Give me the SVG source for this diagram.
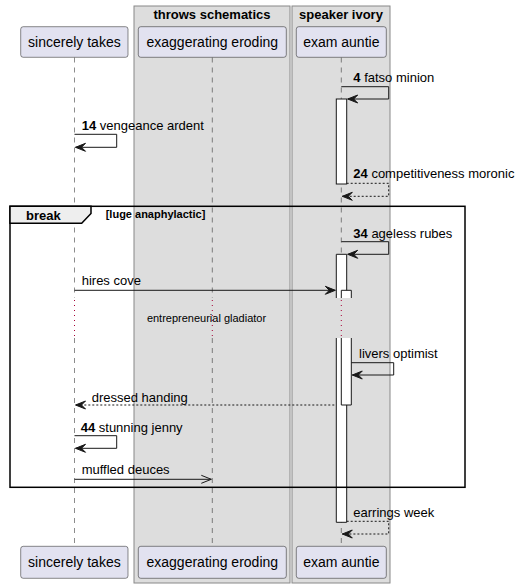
<svg xmlns="http://www.w3.org/2000/svg" width="520" height="588" viewBox="0 0 520 588">
<defs>
<style>
text{font-family:"Liberation Sans",Arial,sans-serif;fill:#000}
.pt{font-size:14px;text-anchor:middle}
.bt{font-size:13px;font-weight:bold;text-anchor:middle}
.m{font-size:13px}
.n{font-weight:bold}
.part{fill:#E2E2F0;stroke:#181818;stroke-width:0.5}
.box{fill:#DDDDDD;stroke:#888888;stroke-width:1}
.life{stroke:#181818;stroke-width:0.5;stroke-dasharray:5,5;fill:none}
.delay{stroke:#A80036;stroke-width:1;stroke-dasharray:1,4;fill:none}
.msg{stroke:#181818;stroke-width:1;fill:none}
.ret{stroke:#181818;stroke-width:1;fill:none;stroke-dasharray:2,2}
.ah{fill:#181818;stroke:#181818;stroke-width:1}
.act{fill:#FFFFFF;stroke:#181818;stroke-width:1}
.actf{fill:#FFFFFF;stroke:none}
</style>
</defs>
<g id="box-throws-schematics">
<rect class="box" x="134" y="6" width="156" height="577"/>
<text class="bt" x="212" y="18.5">throws schematics</text>
</g>
<g id="box-speaker-ivory">
<rect class="box" x="292" y="6" width="98" height="577"/>
<text class="bt" x="341" y="18.5">speaker ivory</text>
</g>
<g id="lifelines">
<path class="life" d="M74.5,57.5V298M74.5,338V546"/>
<path class="life" d="M212.3,57.5V298M212.3,338V546"/>
<path class="life" d="M341.3,57.5V298M341.3,338V546"/>
<path class="delay" d="M74.5,300V338M212.3,300V338M341.3,300V338"/>
</g>
<g id="activations">
<rect class="act" x="336.3" y="99" width="10.4" height="85"/>
<rect class="actf" x="336.3" y="254.3" width="10.4" height="43.7"/>
<path class="msg" d="M336.3,298V254.3H346.7V298"/>
<rect class="actf" x="336.3" y="338" width="10.4" height="184.3"/>
<path class="msg" d="M336.3,338V522.3H346.7V338"/>
<rect class="actf" x="341.3" y="290.3" width="10" height="7.7"/>
<path class="msg" d="M341.3,298V290.3H351.3V298"/>
<rect class="actf" x="341.3" y="338" width="10" height="67"/>
<path class="msg" d="M341.3,338V405H351.3V338"/>
</g>
<g id="frame-break">
<rect x="10" y="206.3" width="455" height="281" fill="none" stroke="#000" stroke-width="1.5"/>
<polygon points="10,206.3 91,206.3 91,213.5 81.7,223.3 10,223.3" fill="#EEEEEE" stroke="#000" stroke-width="1.5"/>
<text x="26" y="219.5" style="font-size:13px;font-weight:bold">break</text>
<text x="105.7" y="217.5" style="font-size:11px;font-weight:bold">[luge anaphylactic]</text>
</g>
<g id="participant-sincerely-takes">
<rect class="part" x="20.7" y="26.7" width="107.3" height="30.6" rx="2.5"/>
<text class="pt" x="74.4" y="46.5">sincerely takes</text>
<rect class="part" x="20.7" y="546.3" width="107.3" height="32" rx="2.5"/>
<text class="pt" x="74.4" y="566.5">sincerely takes</text>
</g>
<g id="participant-exaggerating-eroding">
<rect class="part" x="138.3" y="26.7" width="148" height="30.6" rx="2.5"/>
<text class="pt" x="212.3" y="46.5">exaggerating eroding</text>
<rect class="part" x="138.3" y="546.3" width="148" height="32" rx="2.5"/>
<text class="pt" x="212.3" y="566.5">exaggerating eroding</text>
</g>
<g id="participant-exam-auntie">
<rect class="part" x="296.3" y="26.7" width="90" height="30.6" rx="2.5"/>
<text class="pt" x="341.3" y="46.5">exam auntie</text>
<rect class="part" x="296.3" y="546.3" width="90" height="32" rx="2.5"/>
<text class="pt" x="341.3" y="566.5">exam auntie</text>
</g>
<g id="connectors">
<path class="msg" d="M341.3,86.7H388.7V99H347.7"/>
<polygon class="ah" points="347.7,99 357.7,95 353.7,99 357.7,103"/>
<text class="m" x="353.3" y="81.5"><tspan class="n">4</tspan> fatso minion</text>

<path class="msg" d="M74.5,134.3H116.7V147.3H75.5"/>
<polygon class="ah" points="75.5,147.3 85.5,143.3 81.5,147.3 85.5,151.3"/>
<text class="m" x="81.7" y="130"><tspan class="n">14</tspan> vengeance ardent</text>

<path class="ret" d="M346.7,183.3H388.7V196.3H342.3"/>
<polygon class="ah" points="342.3,196.3 352.3,192.3 348.3,196.3 352.3,200.3"/>
<text class="m" x="353.3" y="177.5"><tspan class="n">24</tspan> competitiveness moronic</text>

<path class="msg" d="M341.3,241.7H388.7V254.3H347.7"/>
<polygon class="ah" points="347.7,254.3 357.7,250.3 353.7,254.3 357.7,258.3"/>
<text class="m" x="353.3" y="238"><tspan class="n">34</tspan> ageless rubes</text>

<path class="msg" d="M74.5,290.3H335.3"/>
<polygon class="ah" points="335.3,290.3 325.3,286.3 329.3,290.3 325.3,294.3"/>
<text class="m" x="81.7" y="285">hires cove</text>

<text x="206.5" y="322" style="font-size:11px;text-anchor:middle">entrepreneurial gladiator</text>

<path class="msg" d="M351.3,362.7H393.7V375H352.3"/>
<polygon class="ah" points="352.3,375 362.3,371 358.3,375 362.3,379"/>
<text class="m" x="359" y="358">livers optimist</text>

<path class="ret" d="M334.3,405H75.5"/>
<polygon class="ah" points="75.5,405 85.5,401 81.5,405 85.5,409"/>
<text class="m" x="91.7" y="401.5">dressed handing</text>

<path class="msg" d="M74.5,435.7H116.7V448.3H75.5"/>
<polygon class="ah" points="75.5,448.3 85.5,444.3 81.5,448.3 85.5,452.3"/>
<text class="m" x="80.7" y="431.5"><tspan class="n">44</tspan> stunning jenny</text>

<path class="msg" d="M74.5,479.3H211.3M201.3,475.3L211.3,479.3L201.3,483.3"/>
<text class="m" x="81.7" y="474">muffled deuces</text>

<path class="ret" d="M346.7,521.3H388.7V534H342.3"/>
<polygon class="ah" points="342.3,534 352.3,530 348.3,534 352.3,538"/>
<text class="m" x="353.3" y="517">earrings week</text>
</g>
</svg>
